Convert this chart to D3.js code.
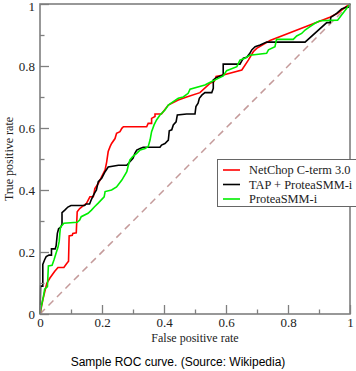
<!DOCTYPE html>
<html><head><meta charset="utf-8">
<script src="https://cdn.jsdelivr.net/npm/d3@7/dist/d3.min.js"></script>
<style>
html,body{margin:0;padding:0;background:#fff;}
svg{display:block;}
.serif{font-family:"Liberation Serif","DejaVu Serif","Times New Roman",serif;}
.sans{font-family:"Liberation Sans",Arial,sans-serif;}
</style></head>
<body>
<svg id="c" width="356" height="371"></svg>
<script>
// ---- data ----
const seriesNames = ["NetChop C-term 3.0", "TAP + ProteaSMM-i", "ProteaSMM-i"];
const seriesColors = ["#ff0000", "#000000", "#00ee00"];

const netchop = [[0,0],[0.01,0.05],[0.022,0.099],[0.032,0.116],[0.047,0.137],[0.058,0.15],[0.077,0.15],[0.085,0.161],[0.092,0.17],[0.094,0.252],[0.104,0.254],[0.106,0.26],[0.117,0.262],[0.12,0.33],[0.128,0.34],[0.134,0.345],[0.15,0.357],[0.161,0.378],[0.172,0.378],[0.177,0.405],[0.188,0.421],[0.199,0.443],[0.21,0.465],[0.215,0.49],[0.22,0.524],[0.226,0.54],[0.231,0.55],[0.242,0.566],[0.247,0.583],[0.258,0.588],[0.264,0.599],[0.269,0.604],[0.344,0.604],[0.349,0.615],[0.36,0.615],[0.36,0.631],[0.371,0.637],[0.371,0.645],[0.392,0.645],[0.398,0.653],[0.414,0.674],[0.425,0.68],[0.446,0.69],[0.473,0.70],[0.516,0.714],[0.548,0.744],[0.562,0.75],[0.568,0.766],[0.591,0.771],[0.651,0.787],[0.672,0.819],[0.688,0.846],[0.699,0.857],[0.742,0.882],[0.935,0.957],[0.96,0.97],[0.985,0.99],[1,1]];

const tapProtea = [[0,0],[0.002,0.09],[0.009,0.09],[0.009,0.16],[0.015,0.175],[0.02,0.185],[0.029,0.19],[0.037,0.19],[0.037,0.21],[0.049,0.21],[0.052,0.22],[0.056,0.26],[0.06,0.275],[0.067,0.28],[0.071,0.29],[0.071,0.327],[0.08,0.335],[0.09,0.345],[0.10,0.35],[0.144,0.35],[0.149,0.355],[0.16,0.355],[0.166,0.37],[0.171,0.38],[0.176,0.39],[0.182,0.40],[0.188,0.427],[0.199,0.438],[0.21,0.459],[0.22,0.474],[0.253,0.48],[0.28,0.48],[0.29,0.491],[0.30,0.502],[0.306,0.518],[0.312,0.529],[0.323,0.534],[0.333,0.538],[0.387,0.538],[0.392,0.545],[0.403,0.55],[0.414,0.561],[0.417,0.591],[0.425,0.594],[0.43,0.61],[0.439,0.62],[0.443,0.642],[0.473,0.645],[0.50,0.645],[0.503,0.669],[0.51,0.68],[0.514,0.696],[0.522,0.706],[0.532,0.714],[0.554,0.714],[0.559,0.728],[0.559,0.755],[0.57,0.763],[0.591,0.771],[0.591,0.806],[0.645,0.806],[0.65,0.815],[0.656,0.825],[0.667,0.828],[0.677,0.841],[0.683,0.852],[0.694,0.862],[0.71,0.868],[0.731,0.877],[0.855,0.877],[0.925,0.94],[0.936,0.94],[0.938,0.957],[0.957,0.97],[0.973,0.984],[0.989,0.99],[0.995,0.99],[1,1]];

const proteaSMM = [[0,0],[0.004,0.024],[0.011,0.056],[0.015,0.08],[0.024,0.088],[0.027,0.155],[0.039,0.157],[0.045,0.174],[0.053,0.2],[0.058,0.215],[0.062,0.235],[0.064,0.26],[0.066,0.28],[0.077,0.293],[0.12,0.296],[0.128,0.303],[0.133,0.314],[0.155,0.325],[0.166,0.335],[0.176,0.346],[0.187,0.357],[0.207,0.378],[0.21,0.395],[0.231,0.40],[0.247,0.41],[0.264,0.432],[0.28,0.459],[0.285,0.48],[0.29,0.497],[0.299,0.508],[0.312,0.518],[0.323,0.529],[0.339,0.534],[0.349,0.54],[0.355,0.561],[0.36,0.588],[0.368,0.61],[0.376,0.626],[0.387,0.642],[0.403,0.658],[0.414,0.674],[0.43,0.685],[0.446,0.696],[0.462,0.70],[0.478,0.712],[0.484,0.725],[0.532,0.739],[0.554,0.75],[0.575,0.76],[0.591,0.768],[0.602,0.785],[0.635,0.798],[0.645,0.819],[0.661,0.825],[0.677,0.835],[0.731,0.841],[0.737,0.852],[0.758,0.862],[0.763,0.886],[0.817,0.886],[0.828,0.897],[0.844,0.905],[0.855,0.916],[0.871,0.927],[0.887,0.938],[0.903,0.946],[0.96,0.948],[1,1]];

const diagonal = [[0,0],[1,1]];
const majorTicks = [0, 0.2, 0.4, 0.6, 0.8, 1];
const minorTicks = [0.1, 0.3, 0.5, 0.7, 0.9];
const tickLabels = ["0", "0.2", "0.4", "0.6", "0.8", "1"];
const xTitle = "False positive rate";
const yTitle = "True positive rate";
const caption = "Sample ROC curve. (Source: Wikipedia)";

// ---- drawing ----
const svg = d3.select("#c");
const L = 40, R = 350, T = 4, B = 314;
const x = d3.scaleLinear().domain([0,1]).range([L,R]);
const y = d3.scaleLinear().domain([0,1]).range([B,T]);
const axisCol = "#7f7f7f";

const line = d3.line().x(d=>x(d[0])).y(d=>y(d[1]));

// diagonal
svg.append("path").datum(diagonal).attr("d", line)
  .attr("fill","none").attr("stroke","#c49a9a").attr("stroke-width",1.5)
  .attr("stroke-dasharray","7,5");

// curves
const allSeries = [netchop, tapProtea, proteaSMM];
allSeries.forEach((s,i)=>{
  svg.append("path").datum(s).attr("d", line)
    .attr("fill","none").attr("stroke", seriesColors[i])
    .attr("stroke-width", 1.6).attr("stroke-linejoin","miter");
});

// axes
function styleAxis(g){
  g.attr("font-family", null).attr("font-size", null);
  g.select(".domain").remove();
  g.selectAll(".tick line").attr("stroke", axisCol).attr("stroke-width",1.3);
  g.selectAll(".tick text").attr("class","serif").style("font-size","13px").attr("fill","#222");
}
const fmt = d => tickLabels[majorTicks.indexOf(d)];
svg.append("g").attr("transform",`translate(0,${B})`)
  .call(d3.axisBottom(x).tickValues(majorTicks).tickFormat(fmt).tickSize(-9).tickPadding(4))
  .call(styleAxis);
svg.append("g").attr("transform",`translate(0,${B})`)
  .call(d3.axisBottom(x).tickValues(minorTicks).tickFormat("").tickSize(-4.5))
  .call(styleAxis);
const yAx = svg.append("g").attr("transform",`translate(${L},0)`)
  .call(d3.axisLeft(y).tickValues(majorTicks).tickFormat(fmt).tickSize(-9).tickPadding(5))
  .call(styleAxis);
yAx.selectAll(".tick text").filter(d=>d===1).attr("dy","0.5em");
svg.append("g").attr("transform",`translate(${L},0)`)
  .call(d3.axisLeft(y).tickValues(minorTicks).tickFormat("").tickSize(-4.5))
  .call(styleAxis);

// frame
svg.append("rect").attr("x",L).attr("y",T).attr("width",R-L).attr("height",B-T)
  .attr("fill","none").attr("stroke",axisCol).attr("stroke-width",1.6);

// titles
svg.append("text").attr("class","serif").attr("x",(L+R)/2).attr("y",342).attr("text-anchor","middle")
  .style("font-size","12px").attr("fill","#222").text(xTitle);
svg.append("text").attr("class","serif").attr("transform",`translate(13,${(T+B)/2}) rotate(-90)`)
  .attr("text-anchor","middle").style("font-size","12px")
  .attr("fill","#222").text(yTitle);

// legend
const lg = svg.append("g");
lg.append("rect").attr("x",217.5).attr("y",159.5).attr("width",150).attr("height",47)
  .attr("fill","#fff").attr("stroke","#666").attr("stroke-width",1);
seriesNames.forEach((n,i)=>{
  const yy = 170 + i*14.5;
  lg.append("line").attr("x1",223).attr("x2",240).attr("y1",yy).attr("y2",yy)
    .attr("stroke",seriesColors[i]).attr("stroke-width",1.6);
  lg.append("text").attr("class","serif").attr("x",249).attr("y",yy+4.3)
    .style("font-size","12.4px").attr("fill","#222").text(n);
});

// caption
svg.append("text").attr("class","sans").attr("x",178).attr("y",366).attr("text-anchor","middle")
  .style("font-size","12px").attr("fill","#000").text(caption);
</script>
</body></html>
